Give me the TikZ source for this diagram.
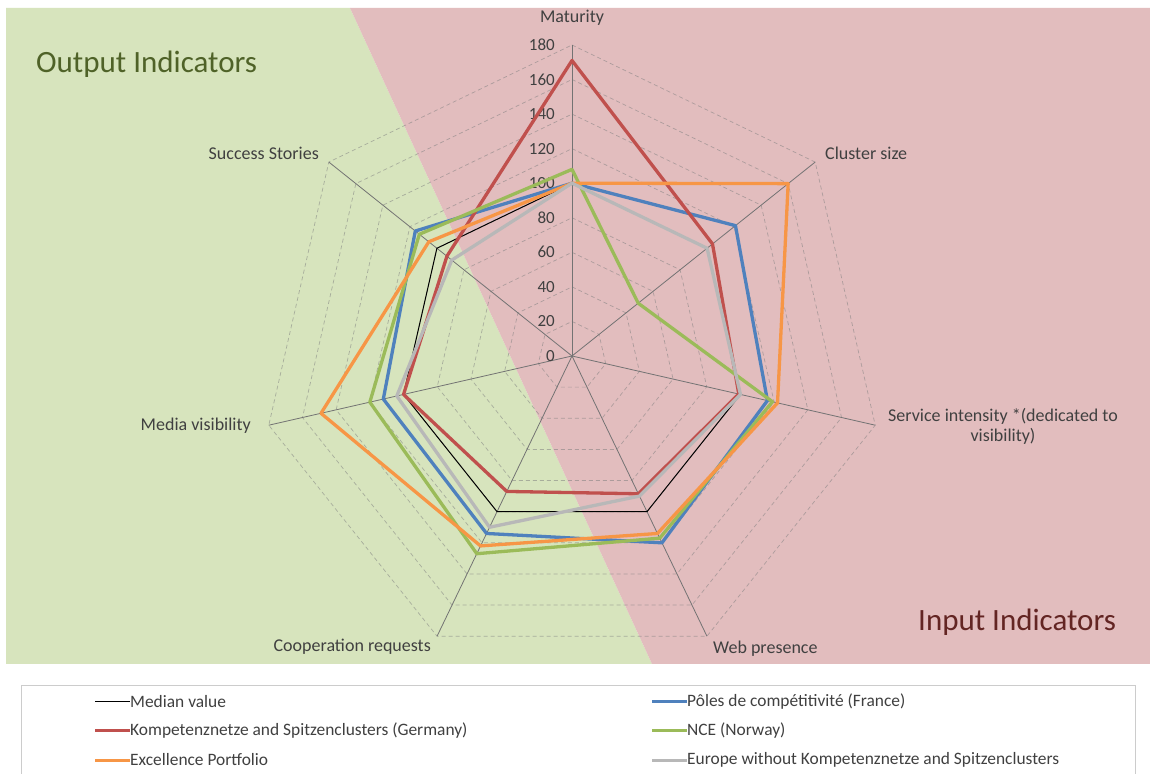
\documentclass[tikz,border=0pt]{standalone}
\usepackage{fontspec}
\setmainfont{Carlito}
\usetikzlibrary{calc,positioning}
\definecolor{outgreen}{HTML}{D7E4BD}
\definecolor{inpink}{HTML}{E2BDBE}
\definecolor{outtext}{HTML}{4F6228}
\definecolor{intext}{HTML}{632523}
\definecolor{serblue}{HTML}{4F81BD}
\definecolor{serred}{HTML}{C0504D}
\definecolor{sergreen}{HTML}{9BBB59}
\definecolor{serorange}{HTML}{F79646}
\definecolor{sergray}{HTML}{B8B8B8}
\definecolor{labgray}{HTML}{404040}
\tikzset{ring/.style={draw=gray,dash pattern=on 4pt off 3pt,line width=0.7pt,opacity=0.55}}
\tikzset{spoke/.style={draw=gray!90!black,line width=0.8pt}}
\tikzset{series/.style={line width=3.3pt,line join=round}}
\tikzset{axlabel/.style={font=\fontsize{18}{20}\selectfont,text=labgray,inner sep=0pt}}
\tikzset{ticklabel/.style={font=\fontsize{17}{19}\selectfont,text=labgray,anchor=east,inner sep=0pt}}
\tikzset{legtext/.style={font=\fontsize{17.4}{19}\selectfont,text=labgray,anchor=west,inner sep=0pt}}
\tikzset{bigtitle/.style={font=\fontsize{31}{33}\selectfont,anchor=west,inner sep=0pt}}
\begin{document}
\begin{tikzpicture}[x=1pt,y=1pt]
    \useasboundingbox (0,0) rectangle (1150,773);
    \fill[white] (0,0) rectangle (1150,773);
    % the two halves
    \fill[outgreen] (6,765) -- (350,765) -- (652,109) -- (6,109) -- cycle;
    \fill[inpink] (350,765) -- (1150,765) -- (1150,109) -- (652,109) -- cycle;
    \node[bigtitle,text=outtext] (outtitle) at (36,709) {Output Indicators};
    \node[bigtitle,text=intext] (intitle) at (918,151) {Input Indicators};

    \def\rs{1.728}
    \begin{scope}[shift={(572,417)}]
        \coordinate (ctr) at (0,0);
        \foreach \r in {20,40,...,180}
        {
            \draw[ring] (90:{\r*\rs}) \foreach \k in {1,...,6}{ -- ({90-\k*360/7}:{\r*\rs}) } -- cycle;
        }
        \foreach \k/\nm in {0/mat,1/clu,2/ser,3/web,4/coo,5/med,6/suc}
        {
            \draw[spoke] (ctr) -- ({90-\k*360/7}:{180*\rs}) coordinate (ax\nm);
        }
        \foreach \v in {0,20,...,180}
        {
            \node[ticklabel] (tick\v) at (-17,{\v*\rs}) {\v};
        }
        % series
        \draw[line width=1pt,black] (90:{100*\rs}) \foreach \v [count=\k] in {100,100,100,100,100,100}{ -- ({90-\k*360/7}:{\v*\rs}) } -- cycle;
        \draw[series,serblue] (90:{100*\rs}) \foreach \v [count=\k] in {121,116,120,114,112,116}{ -- ({90-\k*360/7}:{\v*\rs}) } -- cycle;
        \draw[series,serred] (90:{171*\rs}) \foreach \v [count=\k] in {104,99,88.5,87,100,92.6}{ -- ({90-\k*360/7}:{\v*\rs}) } -- cycle;
        \draw[series,sergreen] (90:{108*\rs}) \foreach \v [count=\k] in {49,119,117,127,120,113}{ -- ({90-\k*360/7}:{\v*\rs}) } -- cycle;
        \draw[series,serorange] (90:{100*\rs}) \foreach \v [count=\k] in {160,122,114,122,149,106}{ -- ({90-\k*360/7}:{\v*\rs}) } -- cycle;
        \draw[series,sergray] (90:{100*\rs}) \foreach \v [count=\k] in {100,100,90,110,104,89}{ -- ({90-\k*360/7}:{\v*\rs}) } -- cycle;
    \end{scope}

    % axis names
    \node[axlabel] (lmat) at (572,755) {Maturity};
    \node[axlabel,anchor=west] (lclu) at (825,620) {Cluster size};
    \node[axlabel,align=center] (lser) at (1003,347) {Service intensity *(dedicated to\\visibility)};
    \node[axlabel,anchor=west] (lweb) at (713,124) {Web presence};
    \node[axlabel,anchor=east] (lcoo) at (431,126) {Cooperation requests};
    \node[axlabel,anchor=east] (lmed) at (251,347) {Media visibility};
    \node[axlabel,anchor=east] (lsuc) at (319,620) {Success Stories};

    % legend
    \draw[gray!40] (21,-5) -- (21,88) -- (1135,88) -- (1135,-5);
    \foreach \x/\y/\nm/\col/\w/\descr in {
        95/71.3/a/black/1.2pt/Median value,
        652/71.3/b/serblue/3pt/Pôles de compétitivité (France),
        95/42/c/serred/3pt/Kompetenznetze and Spitzenclusters (Germany),
        652/42/d/sergreen/3pt/NCE (Norway),
        95/13/e/serorange/3pt/Excellence Portfolio,
        652/13/f/sergray/3pt/Europe without Kompetenznetze and Spitzenclusters}
    {
        \coordinate (key\nm) at (\x,\y);
        \node[legtext] (leg\nm) at (\x+35,\y) {\descr};
        \draw[line width=\w,\col] (key\nm) -- (leg\nm.west);
    }
\end{tikzpicture}
\end{document}
